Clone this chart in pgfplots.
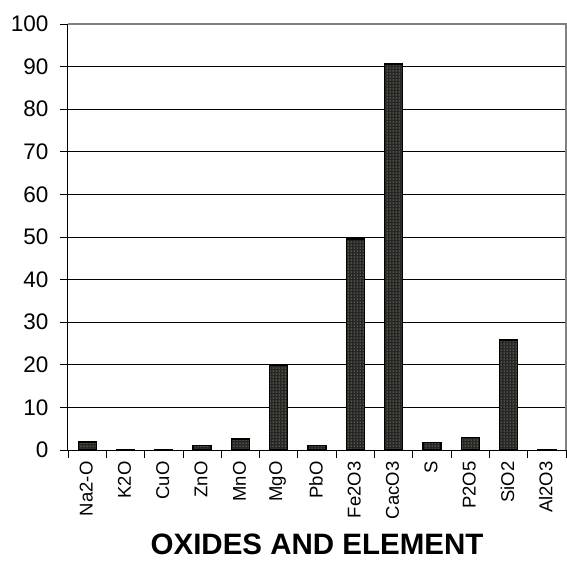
\documentclass[border=0pt]{standalone}
\usepackage{fontspec}
\setmainfont{Liberation Sans}
\usepackage{pgfplots}
\pgfplotsset{compat=1.18}
\usetikzlibrary{patterns}
\begin{document}
\begin{tikzpicture}
\useasboundingbox (-68pt,-116pt) rectangle (499pt,450pt);
\begin{axis}[
  scale only axis,
  width=498pt, height=426pt,
  xmin=-0.5, xmax=12.5,
  ymin=0, ymax=100,
  ytick={0,10,...,100},
  xtick={0,...,12},
  xticklabels={Na2-O,K2O,CuO,ZnO,MnO,MgO,PbO,Fe2O3,CacO3,S,P2O5,SiO2,Al2O3},
  minor xtick={-0.5,0.5,...,12.5},
  axis lines=left,
  axis line style={black, line width=1pt, -},
  tick align=outside,
  major tick length=8pt,
  minor tick length=8pt,
  every major x tick/.style={draw=none},
  every minor x tick/.style={black, line width=0.8pt},
  every major y tick/.style={black, line width=0.8pt},
  ymajorgrids=true,
  grid style={black, line width=0.8pt},
  /pgf/number format/assume math mode=true,
  yticklabel style={font=\fontsize{22.5}{24}\selectfont, xshift=-8pt},
  xticklabel style={font=\fontsize{18.5}{20}\selectfont, rotate=90, anchor=east, yshift=1pt},
  xlabel={\textbf{OXIDES AND ELEMENT}},
  xlabel style={font=\fontsize{29.5}{31}\selectfont, yshift=-8pt},
  clip=false,
]
\addplot[ybar, bar width=18pt, draw=black, line width=1.3pt, fill=black!85,
  postaction={pattern=dots, pattern color=yellow!35!white!80!gray}]
  coordinates {(0,1.9) (1,0.1) (2,0.1) (3,1.1) (4,2.6) (5,19.8) (6,1.1) (7,49.5) (8,90.6) (9,1.7) (10,2.9) (11,25.8) (12,0.1)};
\draw[gray, line width=1.2pt] (rel axis cs:0,1) -- (rel axis cs:1,1) -- (rel axis cs:1,0);
\end{axis}
\end{tikzpicture}
\end{document}
